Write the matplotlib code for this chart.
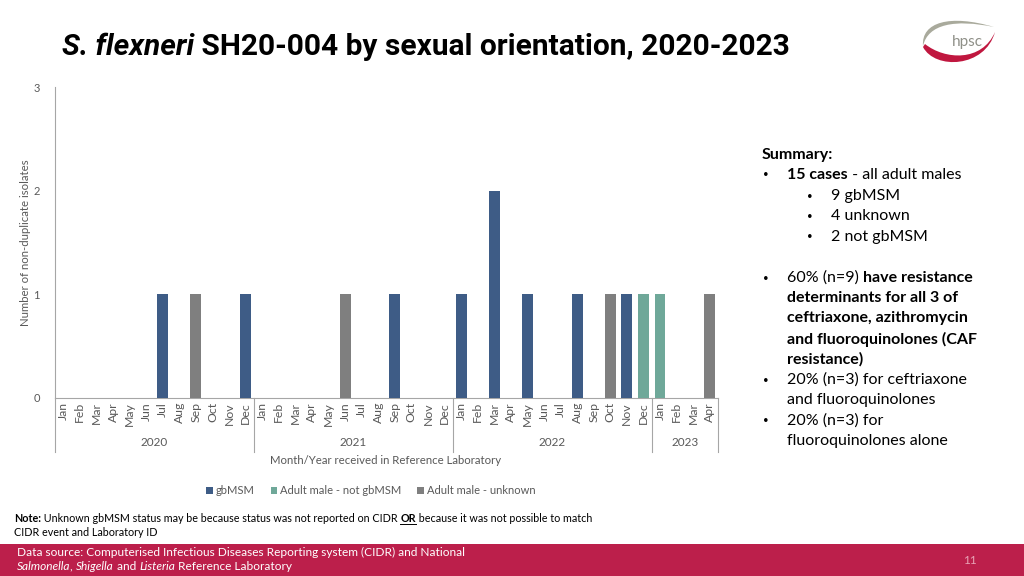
import matplotlib
matplotlib.use('Agg')
import matplotlib.pyplot as plt
from matplotlib import font_manager
from matplotlib.patches import Rectangle, PathPatch
from matplotlib.path import Path
from matplotlib.lines import Line2D
import matplotlib.transforms as mtransforms

# ---------------- data ----------------
months = ['Jan', 'Feb', 'Mar', 'Apr', 'May', 'Jun', 'Jul', 'Aug', 'Sep', 'Oct', 'Nov', 'Dec']
years = ['2020', '2021', '2022', '2023']
months_per_year = [12, 12, 12, 4]
series_names = ['gbMSM', 'Adult male - not gbMSM', 'Adult male - unknown']
gbmsm = [0, 0, 0, 0, 0, 0, 1, 0, 0, 0, 0, 1,
         0, 0, 0, 0, 0, 0, 0, 0, 1, 0, 0, 0,
         1, 0, 2, 0, 1, 0, 0, 1, 0, 0, 1, 0,
         0, 0, 0, 0]
not_gbmsm = [0, 0, 0, 0, 0, 0, 0, 0, 0, 0, 0, 0,
             0, 0, 0, 0, 0, 0, 0, 0, 0, 0, 0, 0,
             0, 0, 0, 0, 0, 0, 0, 0, 0, 0, 0, 1,
             1, 0, 0, 0]
unknown = [0, 0, 0, 0, 0, 0, 0, 0, 1, 0, 0, 0,
           0, 0, 0, 0, 0, 1, 0, 0, 0, 0, 0, 0,
           0, 0, 0, 0, 0, 0, 0, 0, 0, 1, 0, 0,
           0, 0, 0, 1]
y_ticks = [0, 1, 2, 3]
colors = ['#3E5C86', '#6FA899', '#7F7F7F']

W, H = 1024, 576
fig = plt.figure(figsize=(W / 100, H / 100), dpi=100)
fig.patch.set_facecolor('white')

available = {f.name for f in font_manager.fontManager.ttflist}
BODY = 'Lato' if 'Lato' in available else 'DejaVu Sans'
TITLE = 'Liberation Sans Narrow' if 'Liberation Sans Narrow' in available else 'Roboto'
GRAY = '#595959'

def fx(x):
    return x / W

def fy(y):
    return 1 - y / H

# ---------------- axes ----------------
ax_l, ax_r, ax_t, ax_b = 55, 718, 87, 398
ax = fig.add_axes([fx(ax_l), fy(ax_b), (ax_r - ax_l) / W, (ax_b - ax_t) / H])
n = len(gbmsm)
xs = list(range(n))
bw = 0.66
ax.bar(xs, gbmsm, width=bw, color=colors[0], label=series_names[0], zorder=3)
ax.bar(xs, not_gbmsm, width=bw, color=colors[1], label=series_names[1], zorder=3)
ax.bar(xs, unknown, width=bw, color=colors[2], label=series_names[2], zorder=3)
ax.set_xlim(-0.5, n - 0.5)
ax.set_ylim(0, 3)
ax.set_yticks(y_ticks)
ax.set_yticklabels([str(v) for v in y_ticks], fontsize=8, color=GRAY, family=BODY)
ax.tick_params(axis='y', length=0, pad=11)
ax.set_xticks([])
for s in ['top', 'right']:
    ax.spines[s].set_visible(False)
ax.spines['left'].set_color('#A6A6A6')
ax.spines['bottom'].set_color('#A6A6A6')
ax.spines['left'].set_linewidth(0.8)
ax.spines['bottom'].set_linewidth(0.8)

# multi-level category axis
trans = mtransforms.blended_transform_factory(ax.transData, ax.transAxes)
sep_bottom = -(452 - ax_b) / (ax_b - ax_t)
month_top = -(402 - ax_b) / (ax_b - ax_t)
year_y = -(443 - ax_b) / (ax_b - ax_t)
start = 0
bounds = [-0.5]
for yr, cnt in zip(years, months_per_year):
    for i in range(cnt):
        ax.text(start + i, month_top, months[i], transform=trans, rotation=90,
                ha='center', va='top', fontsize=8.8, color=GRAY, family=BODY)
    ax.text(start + (cnt - 1) / 2, year_y, yr, transform=trans, ha='center', va='center',
            fontsize=8.5, color=GRAY, family=BODY)
    start += cnt
    bounds.append(start - 0.5)
for b in bounds:
    ax.add_line(Line2D([b, b], [0, sep_bottom], transform=trans, color='#A6A6A6',
                       lw=0.8, clip_on=False))

fig.text(fx(386), fy(461), 'Month/Year received in Reference Laboratory', ha='center', va='center',
         fontsize=8.2, color=GRAY, family=BODY)
fig.text(fx(26), fy(243), 'Number of non-duplicate isolates', rotation=90, ha='center', va='center',
         fontsize=8.2, color=GRAY, family=BODY)

leg = fig.legend(loc='center', bbox_to_anchor=(fx(371), fy(491)), ncol=3, frameon=False,
                 handlelength=0.6, handleheight=0.6, handletextpad=0.3,
                 columnspacing=1.4, prop={'family': BODY, 'size': 8})
for t in leg.get_texts():
    t.set_color(GRAY)

# ---------------- text helpers ----------------
renderer = fig.canvas.get_renderer()

def runs(x, y, parts, size, color, family, va='center'):
    for txt, weight, style, ul in parts:
        t = fig.text(fx(x), fy(y), txt, fontsize=size, fontweight=weight, fontstyle=style,
                     color=color, family=family, ha='left', va=va)
        bb = t.get_window_extent(renderer)
        if ul:
            yl = bb.y0 + 1.0
            fig.add_artist(Line2D([bb.x0 / W, bb.x1 / W], [yl / H, yl / H], color=color, lw=0.7))
        x += bb.width
    return x

# title
runs(62, 47, [('S. flexneri', 'bold', 'italic', False),
              (' SH20-004 by sexual orientation, 2020-2023', 'bold', 'normal', False)],
     21.5 if TITLE == 'Roboto' else 23, '#000000', TITLE)

# summary
fs = 11.5
runs(762, 155, [('Summary:', 'bold', 'normal', False)], fs, '#000000', BODY)
bx, tx, sbx, stx = 766, 787, 810, 831
summary_lines = [
    (175, bx, tx, [('15 cases', 'bold', 'normal', False), (' - all adult males', 'normal', 'normal', False)]),
    (196, sbx, stx, [('9 gbMSM', 'normal', 'normal', False)]),
    (216, sbx, stx, [('4 unknown', 'normal', 'normal', False)]),
    (237, sbx, stx, [('2 not gbMSM', 'normal', 'normal', False)]),
    (278, bx, tx, [('60% (n=9) ', 'normal', 'normal', False), ('have resistance', 'bold', 'normal', False)]),
    (298, None, tx, [('determinants for all 3 of', 'bold', 'normal', False)]),
    (318, None, tx, [('ceftriaxone, azithromycin', 'bold', 'normal', False)]),
    (339, None, tx, [('and fluoroquinolones (CAF', 'bold', 'normal', False)]),
    (359, None, tx, [('resistance)', 'bold', 'normal', False)]),
    (380, bx, tx, [('20% (n=3) for ceftriaxone', 'normal', 'normal', False)]),
    (400, None, tx, [('and fluoroquinolones', 'normal', 'normal', False)]),
    (421, bx, tx, [('20% (n=3) for', 'normal', 'normal', False)]),
    (441, None, tx, [('fluoroquinolones alone', 'normal', 'normal', False)]),
]
for y, bxx, txx, parts in summary_lines:
    if bxx is not None:
        fig.text(fx(bxx), fy(y), '\u2022', fontsize=7, color='#000000', family=BODY,
                 ha='center', va='center')
    runs(txx, y, parts, fs, '#000000', BODY)

# note
runs(14, 519, [('Note:', 'bold', 'normal', False),
               (' Unknown gbMSM status may be because status was not reported on CIDR ', 'normal', 'normal', False),
               ('OR', 'bold', 'normal', True),
               (' because it was not possible to match', 'normal', 'normal', False)],
     7.75, '#000000', BODY)
runs(14, 533, [('CIDR event and Laboratory ID', 'normal', 'normal', False)], 7.75, '#000000', BODY)

# footer band
fig.add_artist(Rectangle((0, 0), 1, (576 - 544) / H, transform=fig.transFigure,
                         facecolor='#BC1F4B', edgecolor='none', zorder=0))
runs(17, 552, [('Data source: Computerised Infectious Diseases Reporting system (CIDR) and National',
                'normal', 'normal', False)], 8.6, 'white', BODY)
runs(17, 567, [('Salmonella', 'normal', 'italic', False), (', ', 'normal', 'normal', False),
               ('Shigella', 'normal', 'italic', False), (' and ', 'normal', 'normal', False),
               ('Listeria', 'normal', 'italic', False), (' Reference Laboratory', 'normal', 'normal', False)],
     8.6, 'white', BODY)
fig.text(fx(970), fy(560), '11', fontsize=8.5, color='#E7A3B5', family=BODY, ha='center', va='center')

# logo
lax = fig.add_axes([fx(912), fy(72), 90 / W, 60 / H])
lax.set_xlim(912, 1002)
lax.set_ylim(72, 12)
lax.axis('off')
gray_path = Path([(923, 46), (921, 22), (950, 14), (994, 27),
                  (955, 19), (928, 24), (923, 46)],
                 [Path.MOVETO, Path.CURVE4, Path.CURVE4, Path.CURVE4,
                  Path.CURVE4, Path.CURVE4, Path.CURVE4])
lax.add_patch(PathPatch(gray_path, facecolor='#A9AA9C', edgecolor='none'))
red_path = Path([(923, 47), (935, 70), (985, 68), (995, 32),
                 (982, 62), (945, 60), (925, 44), (923, 47)],
                [Path.MOVETO, Path.CURVE4, Path.CURVE4, Path.CURVE4,
                 Path.CURVE4, Path.CURVE4, Path.CURVE4, Path.LINETO])
lax.add_patch(PathPatch(red_path, facecolor='#C0173F', edgecolor='none'))
lax.text(967, 42, 'hpsc', ha='center', va='center', fontsize=11, color='#8F9088',
         family=BODY)

fig.savefig('out.png', dpi=100)
